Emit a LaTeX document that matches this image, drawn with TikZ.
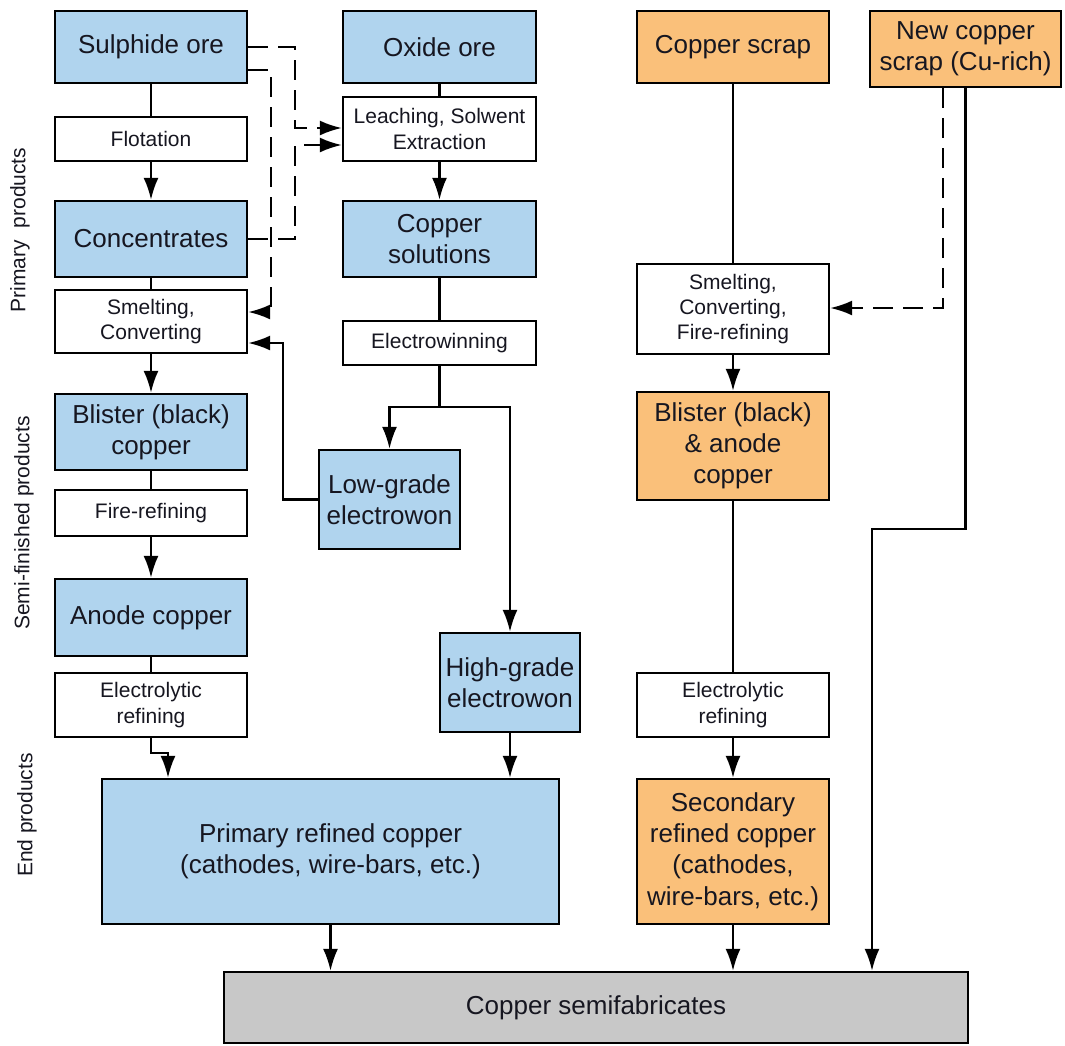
\documentclass[tikz,border=0pt]{standalone}
\usepackage{fontspec}
\setmainfont{Liberation Sans}
\usetikzlibrary{arrows.meta}

\definecolor{oreblue}{RGB}{176,212,238}
\definecolor{scraporange}{RGB}{250,192,122}
\definecolor{semigray}{RGB}{200,200,200}
\definecolor{txt}{RGB}{22,22,32}

\begin{document}
\begin{tikzpicture}[x=0.5pt, y=-0.5pt,
    box/.style={draw, line width=1.2pt, align=center, inner sep=0pt, text=txt, minimum width=96pt},
    prim/.style={box, fill=oreblue, font=\fontsize{13}{15.6}\selectfont},
    sec/.style={box, fill=scraporange, font=\fontsize{13}{15.6}\selectfont},
    proc/.style={box, fill=white, font=\fontsize{10.5}{12.6}\selectfont},
    link/.style={line width=1.1pt},
    flow/.style={line width=1.1pt, -{Latex[length=11pt,width=7.5pt]}},
    back/.style={flow, dash pattern=on 10pt off 5pt},
    side/.style={rotate=90, text=txt, font=\fontsize{10.5}{12.6}\selectfont}]
        \useasboundingbox (0,0) rectangle (1065,1045);

        % 侧边标注
        \node[side] (lblprim) at (20,230) {Primary\ \ products};
        \node[side] (lblsemi) at (24,523) {Semi-finished products};
        \node[side] (lblend) at (27,815) {End products};

        % 硫化矿一列
        \node[prim, minimum height=36pt] (sulphide) at (151,47) {Sulphide ore};
        \node[proc, minimum height=22pt] (flotation) at (151,139) {Flotation};
        \node[prim, minimum height=38pt] (concentrates) at (151,239) {Concentrates};
        \node[proc, minimum height=31.5pt] (smeltconv) at (151,321.5) {Smelting,\\Converting};
        \node[prim, minimum height=38pt] (blister) at (151,432) {Blister (black)\\copper};
        \node[proc, minimum height=23pt] (firerefine) at (151,513) {Fire-refining};
        \node[prim, minimum height=38.5pt] (anode) at (151,617.5) {Anode copper};
        \node[proc, minimum height=32pt] (electrolytic) at (151,705) {Electrolytic\\refining};

        % 氧化矿一列
        \node[prim, minimum width=96.5pt, minimum height=36pt] (oxide) at (439.5,47) {Oxide ore};
        \node[proc, minimum width=96.5pt, minimum height=32pt] (leaching) at (439.5,129) {Leaching, Solwent\\Extraction};
        \node[prim, minimum width=96.5pt, minimum height=38pt] (solutions) at (439.5,239) {Copper\\solutions};
        \node[proc, minimum width=96.5pt, minimum height=22pt] (electrowin) at (439.5,343) {Electrowinning};
        \node[prim, minimum width=70.5pt, minimum height=49.5pt] (lowgrade) at (389.5,499.5) {Low-grade\\electrowon};
        \node[prim, minimum width=70pt, minimum height=49.5pt] (highgrade) at (510,682.5) {High-grade\\electrowon};
        \node[prim, minimum width=228.5pt, minimum height=72.5pt] (primary) at (330.5,851.5) {Primary refined copper\\(cathodes, wire-bars, etc.)};

        % 废铜一列
        \node[sec, minimum height=36pt] (scrap) at (733,47) {Copper scrap};
        \node[sec, minimum width=95.5pt, minimum height=38pt] (newscrap) at (965.5,49) {New copper\\scrap (Cu-rich)};
        \node[proc, minimum height=45pt] (smeltfire) at (733,309) {Smelting,\\Converting,\\Fire-refining};
        \node[sec, minimum height=54pt] (blisteranode) at (733,446) {Blister (black)\\\& anode\\copper};
        \node[proc, minimum height=32pt] (electrolytic2) at (733,705) {Electrolytic\\refining};
        \node[sec, minimum height=72.5pt] (secondary) at (733,851.5) {Secondary\\refined copper\\(cathodes,\\wire-bars, etc.)};

        % 半成品
        \node[box, fill=semigray, minimum width=372pt, minimum height=35.5pt, font=\fontsize{13}{15.6}\selectfont] (semifab) at (596,1007.5) {Copper semifabricates};

        % 硫化矿流程
        \draw[link] (sulphide) -- (flotation);
        \draw[flow] (flotation) -- (concentrates);
        \draw[link] (concentrates) -- (smeltconv);
        \draw[flow] (smeltconv) -- (blister);
        \draw[link] (blister) -- (firerefine);
        \draw[flow] (firerefine) -- (anode);
        \draw[link] (anode) -- (electrolytic);
        \draw[flow] (electrolytic.south) -- ++(0,15) -| ([xshift=-81.25pt]primary.north);

        % 虚线
        \draw[back] (sulphide.east) -| (295,128) -- (leaching.west |- 0,128);
        \draw[back] (concentrates.east) -| (295,145) -- (leaching.west |- 0,145);
        \draw[back] (sulphide.east |- 0,70) -| (271,312) -- (smeltconv.east |- 0,312);

        % 氧化矿流程
        \draw[link] (oxide) -- (leaching);
        \draw[flow] (leaching) -- (solutions);
        \draw[link] (solutions) -- (electrowin);
        \draw[link] (electrowin.south) -- (439.5,407) coordinate (split);
        \draw[flow] (split) -| (lowgrade.north);
        \draw[flow] (split) -| (highgrade.north);
        \draw[flow] (lowgrade.west) -| (283,343) -- (smeltconv.east |- 0,343);
        \draw[flow] (highgrade.south) -- (primary.north -| highgrade.south);

        % 废铜流程
        \draw[link] (scrap) -- (smeltfire);
        \draw[back] (newscrap.south -| 943,0) |- (smeltfire.east |- 0,308);
        \draw[flow] (smeltfire) -- (blisteranode);
        \draw[link] (blisteranode) -- (electrolytic2);
        \draw[flow] (electrolytic2) -- (secondary);
        \draw[flow] (newscrap.south) -- (965.5,529) -| (semifab.north -| 872,0);

        % 到半成品
        \draw[flow] (primary.south) -- (semifab.north -| primary.south);
        \draw[flow] (secondary.south) -- (semifab.north -| secondary.south);
\end{tikzpicture}
\end{document}
